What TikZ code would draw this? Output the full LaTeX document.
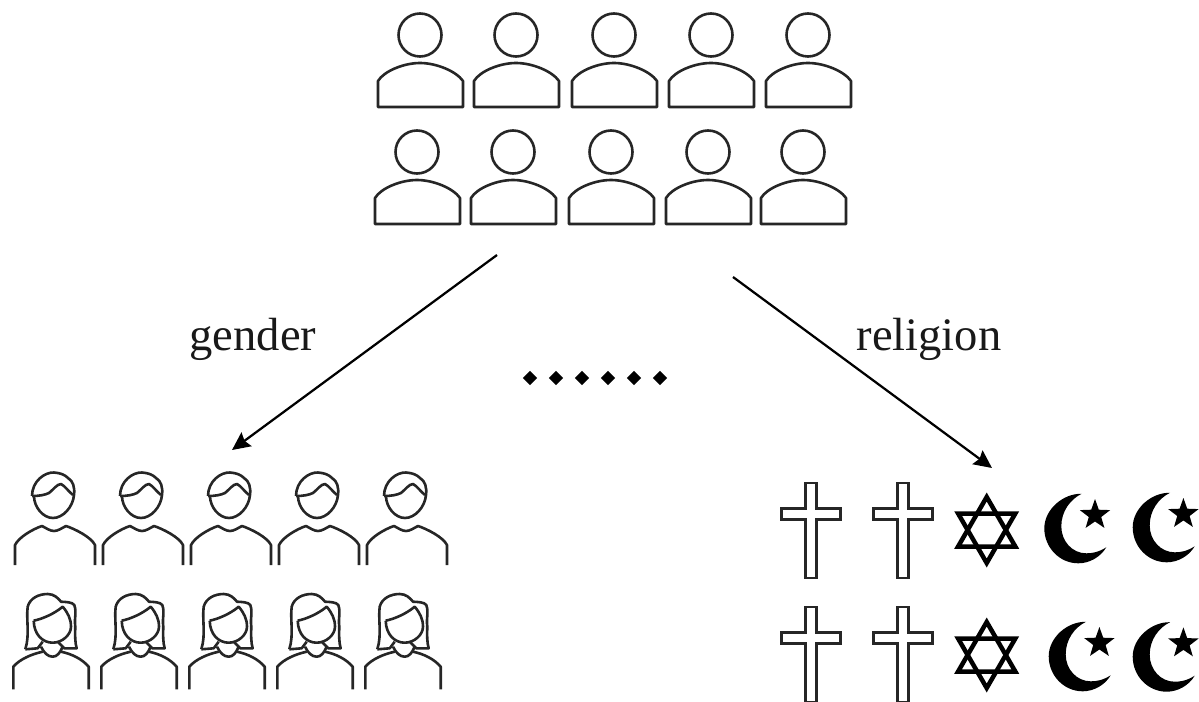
\documentclass[tikz,border=0pt]{standalone}
\usepackage{fontspec}
\setmainfont{Liberation Serif}
\usetikzlibrary{arrows.meta,shapes.geometric}
\tikzset{
  iconline/.style={line width=0.052cm, line join=round, black!85},
  arrow/.style={line width=0.045cm, -{Stealth[length=0.36cm,width=0.34cm,inset=0.05cm]}},
  tag/.style={anchor=base, font=\fontsize{26.5}{30}\selectfont, text=black!90},
  dotmark/.style={diamond, fill=black, inner sep=0pt, minimum size=0.29cm},
  personicon/.pic={
    \draw[iconline] (0,0) circle (21.5);
    \draw[iconline] (-42,72) -- (-42,46) .. controls (-36,36) and (-16,28) .. (0,28)
      .. controls (16,28) and (36,36) .. (43,46) -- (43,72) -- cycle;
  },
  manicon/.pic={
    \draw[iconline] (-21,1) .. controls (-21,-14) and (-8,-23) .. (1,-22.5)
      .. controls (8,-22) and (12,-20) .. (15,-17) .. controls (20,-14) and (22,-8) .. (21,0)
      .. controls (20,12) and (10,23) .. (0,23) .. controls (-10,23) and (-19,12) .. (-19,1);
    \draw[iconline] (-21,1) .. controls (-14,1) and (-8,0) .. (-4,-2)
      .. controls (0,-5) and (4,-11) .. (8,-11) .. controls (12,-9) and (16,-3) .. (20,0);
    \draw[iconline] (-38,70) -- (-38,50) .. controls (-34,42) and (-20,34) .. (-11,31)
      .. controls (-7,33) and (-3,36) .. (1,36) .. controls (5,36) and (9,33) .. (13,31)
      .. controls (22,34) and (38,42) .. (42,50) -- (42,70);
  },
  womanicon/.pic={
    % hair
    \draw[iconline] (-26.7,24.3) .. controls (-22,10) and (-26,-6) .. (-24.3,-18.3)
      .. controls (-22,-27) and (-13,-31) .. (-4.3,-31) .. controls (2,-31) and (6,-27) .. (9,-23.3)
      .. controls (14,-23) and (20,-23) .. (22.3,-20) .. controls (25,-12) and (22,-8) .. (23.3,1.7)
      .. controls (23,10) and (23,18) .. (24.7,23.3) -- (12.3,23.3) -- (5.7,16.7);
    \draw[iconline] (-26.7,24.3) -- (-14.3,23.3) -- (-9.3,16.7);
    % face
    \draw[iconline] (-18.3,-4.3) .. controls (-10,-6) and (2,-11) .. (10.7,-18.3)
      .. controls (16,-12) and (19,-6) .. (19,1.7) .. controls (19,10) and (10,17.7) .. (0.7,17.7)
      .. controls (-9,17.7) and (-18,10) .. (-18.3,-4.3);
    % collar and body
    \draw[iconline] (-38.7,64.3) -- (-38.7,41.7) .. controls (-32,34) and (-20,29) .. (-9.3,26.7);
    \draw[iconline] (36.7,64.3) -- (36.7,41.7) .. controls (30,34) and (20,29) .. (9,26.7);
    \draw[iconline] (-11,21.7) .. controls (-8,28) and (-4,31.7) .. (0.7,31.7)
      .. controls (5,31.7) and (8,28) .. (10.7,21.7);
  },
  crossicon/.pic={
    \draw[iconline, line join=miter] (-5.5,0) -- (5.5,0) -- (5.5,25.5) -- (29.5,25.5) -- (29.5,36.5)
      -- (5.5,36.5) -- (5.5,95) -- (-5.5,95) -- (-5.5,36.5) -- (-29.5,36.5)
      -- (-29.5,25.5) -- (-5.5,25.5) -- cycle;
  },
  davidicon/.pic={
    \draw[line width=0.09cm, line join=miter] (0,-33) -- (28.6,16.5) -- (-28.6,16.5) -- cycle;
    \draw[line width=0.09cm, line join=miter] (0,33) -- (28.6,-16.5) -- (-28.6,-16.5) -- cycle;
  },
  moonicon/.pic={
    \fill (3.3,-34.5) .. controls (-15,-35) and (-34,-19) .. (-34,0)
      .. controls (-34,19) and (-19,35) .. (0,35) .. controls (11,35) and (22,29) .. (28,19)
      .. controls (20,24) and (14,25) .. (8,25) .. controls (-6,25) and (-17,13) .. (-17,-2)
      .. controls (-17,-17) and (-8,-29) .. (3.3,-34.5) -- cycle;
    \fill (16.7,-29.3) -- (20.5,-18.6) -- (31.9,-18.2) -- (22.9,-11.3) -- (26.1,-0.4)
      -- (16.7,-6.8) -- (7.3,-0.4) -- (10.5,-11.3) -- (1.5,-18.2) -- (12.9,-18.6) -- cycle;
  },
}
\begin{document}
\begin{tikzpicture}[x=0.02cm, y=-0.02cm]
\useasboundingbox (0,0) rectangle (1199,702);
% crowd on top
\foreach \x in {420,516,614,711,808} \pic at (\x,35) {personicon};
\foreach \x in {417,513,611,708,803} \pic at (\x,152) {personicon};
% gender group
\foreach \x in {53,141,229,317,405} \pic at (\x,495) {manicon};
\foreach \x in {52,140,228,316,404} \pic at (\x,625) {womanicon};
% religion group
\foreach \x/\r in {811/483,903/483,811/607,903/607} \pic at (\x,\r) {crossicon};
\pic at (986.7,530) {davidicon};
\pic at (986.7,655) {davidicon};
\pic at (1078.3,528.3) {moonicon};
\pic at (1166.7,527.3) {moonicon};
\pic at (1082.7,656.3) {moonicon};
\pic at (1166.7,656.7) {moonicon};
% arrows and labels
\coordinate (gstart) at (497,255);
\coordinate (gend) at (232,450);
\coordinate (rstart) at (733,277);
\coordinate (rend) at (992,468);
\draw[arrow] (gstart) -- (gend);
\draw[arrow] (rstart) -- (rend);
\node (gender) [tag] at (253,350) {gender};
\node (religion) [tag] at (929,350) {religion};
\foreach \i/\x in {1/530,2/556,3/582,4/608,5/634,6/660} \node (dot\i) [dotmark] at (\x,378) {};
\end{tikzpicture}
\end{document}
